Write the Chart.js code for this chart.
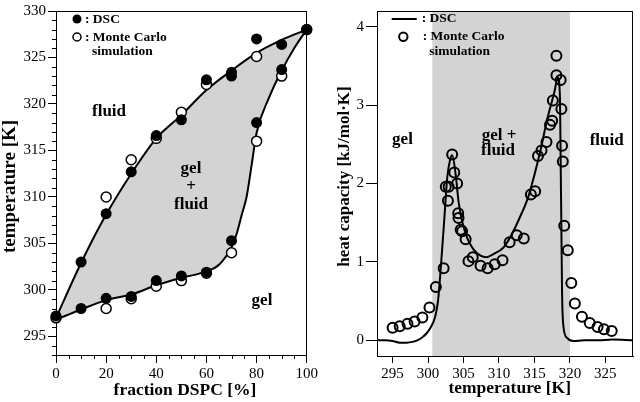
<!DOCTYPE html>
<html>
<head>
<meta charset="utf-8">
<script src="https://cdn.jsdelivr.net/npm/chart.js@4.4.0/dist/chart.umd.min.js"></script>
<style>
  html, body { margin: 0; padding: 0; background: #fff; }
  #wrap { display: flex; width: 640px; height: 402px; }
  .panel { position: relative; width: 320px; height: 402px; }
</style>
</head>
<body>
<div id="wrap">
  <div class="panel"><canvas id="phase"></canvas></div>
  <div class="panel"><canvas id="cp"></canvas></div>
</div>
<script>
// Left panel: phase diagram (fraction DSPC vs temperature)
const FRACTION_TICKS = [0, 20, 40, 60, 80, 100];
const TEMP_TICKS = [295, 300, 305, 310, 315, 320, 325, 330];

const DSC_FRACTION = [0, 10, 10, 20, 20, 30, 30, 40, 40, 50, 50, 60, 60, 70, 70, 70, 80, 80, 90, 90, 100];
const DSC_TEMP = [297.2, 298.0, 303.0, 299.1, 308.2, 299.3, 312.7, 301.0, 316.6, 301.5, 318.3, 301.9, 322.6, 305.3, 323.4, 323.0, 318.0, 327.0, 323.7, 326.4, 328.0];

const MC_FRACTION = [0, 20, 20, 30, 30, 40, 40, 50, 50, 60, 60, 70, 80, 80, 90, 100];
const MC_TEMP = [297.0, 298.0, 310.0, 299.05, 314.0, 300.4, 316.3, 301.0, 319.1, 301.8, 322.1, 304.0, 316.0, 325.1, 323.0, 328.0];

// boundary curves of the coexistence region
const FLUIDUS_FRACTION = [0, 10, 20, 30, 40, 50, 60, 70, 80, 90, 100];
const FLUIDUS_TEMP = [297.0, 302.9, 308.1, 312.5, 316.3, 318.8, 321.5, 323.6, 325.5, 326.9, 328.0];
const SOLIDUS_FRACTION = [0, 10, 20, 30, 40, 50, 60, 65, 70, 72, 74, 76, 78, 80, 85, 90, 95, 100];
const SOLIDUS_TEMP = [296.8, 297.9, 298.9, 299.5, 300.5, 301.3, 302.0, 302.7, 304.6, 306.0, 308.0, 310.0, 313.4, 316.9, 320.7, 323.6, 326.0, 328.0];

// Right panel: heat capacity profile
const CP_TEMP_TICKS = [295, 300, 305, 310, 315, 320, 325];
const CP_TICKS = [0, 1, 2, 3, 4];

const DSC_CURVE_TEMP = [292.8, 294, 295, 296, 297, 297.8, 298.5, 299.2, 299.8, 300.4, 301.0, 301.4, 301.8, 302.3, 302.7, 303.1, 303.4, 303.9, 304.3, 304.8, 305.5, 306.4, 307.4, 308.2, 309.2, 310.6, 311.8, 312.9, 314.1, 315.0, 315.9, 316.8, 317.8, 318.3, 318.6, 318.7, 318.8, 318.9, 319.1, 319.6, 320.5, 322, 324, 326, 328.9];
const DSC_CURVE_CP = [0.0, 0.0, -0.01, -0.03, -0.03, -0.02, 0.0, 0.04, 0.09, 0.17, 0.30, 0.50, 0.93, 1.56, 2.07, 2.30, 2.36, 2.11, 1.77, 1.52, 1.31, 1.16, 1.08, 1.06, 1.10, 1.18, 1.35, 1.56, 1.82, 2.11, 2.44, 2.82, 3.16, 3.35, 3.10, 2.28, 1.43, 0.59, 0.17, 0.03, -0.01, 0.0, 0.0, 0.01, 0.0];

const MC_CP_TEMP = [295.0, 296.0, 297.1, 298.1, 299.2, 300.2, 301.1, 302.2, 302.8, 302.5, 302.9, 303.4, 303.7, 304.1, 304.25, 304.3, 304.6, 304.8, 305.3, 305.7, 306.3, 307.4, 308.4, 309.4, 310.5, 311.5, 312.5, 313.5, 314.5, 315.1, 315.5, 316.0, 316.7, 317.2, 317.5, 317.6, 318.1, 318.1, 318.7, 318.8, 318.9, 319.0, 319.2, 319.7, 320.2, 320.7, 321.7, 322.8, 323.9, 324.8, 325.9];
const MC_CP = [0.16, 0.18, 0.21, 0.24, 0.29, 0.42, 0.68, 0.92, 1.78, 1.96, 1.96, 2.37, 2.14, 2.00, 1.62, 1.56, 1.41, 1.39, 1.29, 1.01, 1.06, 0.95, 0.92, 0.97, 1.02, 1.25, 1.34, 1.30, 1.86, 1.90, 2.35, 2.42, 2.53, 2.75, 2.80, 3.06, 3.38, 3.63, 3.32, 2.95, 2.48, 2.28, 1.46, 1.15, 0.73, 0.47, 0.30, 0.22, 0.17, 0.14, 0.12];

const COEXISTENCE_RANGE = [300.6, 320.0];

const SERIF = "'Liberation Serif', 'Times New Roman', serif";
const GREY = '#d3d3d3';

const pts = (xs, ys) => xs.map((x, i) => ({ x, y: ys[i] }));

function drawText(ctx, t) {
  ctx.save();
  ctx.font = t.font;
  ctx.fillStyle = '#000';
  ctx.textAlign = t.align || 'center';
  ctx.textBaseline = t.baseline || 'alphabetic';
  ctx.translate(t.x, t.y);
  if (t.rot) ctx.rotate(t.rot);
  ctx.fillText(t.text, 0, 0);
  ctx.restore();
}

function frame(chart) {
  const { ctx, chartArea: a } = chart;
  ctx.save();
  ctx.strokeStyle = '#000';
  ctx.lineWidth = 1;
  ctx.strokeRect(Math.round(a.left) + 0.5, Math.round(a.top) + 0.5, Math.round(a.right - a.left) - 1, Math.round(a.bottom - a.top));
  ctx.restore();
}

function minorTicks(chart, axis, step, majors, len) {
  const s = chart.scales[axis];
  const { ctx, chartArea: a } = chart;
  ctx.save();
  ctx.strokeStyle = '#000';
  ctx.lineWidth = 1;
  ctx.beginPath();
  for (let v = s.min; v <= s.max + 1e-9; v += step) {
    const val = Math.round(v / step) * step;
    if (majors.includes(val) || val < s.min || val > s.max) continue;
    const p = Math.round(s.getPixelForValue(val)) + 0.5;
    if (axis === 'x') { ctx.moveTo(p, a.bottom); ctx.lineTo(p, a.bottom + len); }
    else { ctx.moveTo(a.left - len, p); ctx.lineTo(a.left, p); }
  }
  ctx.stroke();
  ctx.restore();
}

function axisOpts(min, max, tickList, tickLength, extra) {
  return Object.assign({
    type: 'linear',
    min, max,
    afterBuildTicks: (s) => { s.ticks = tickList.map((v) => ({ value: v })); },
    ticks: { autoSkip: false, maxRotation: 0, color: '#000', padding: 2, font: { family: SERIF, size: 15 } },
    grid: { drawOnChartArea: false, drawTicks: true, tickLength, tickColor: '#000', tickWidth: 1 },
    border: { display: true, color: '#000', width: 1 },
  }, extra);
}

const BOLD17 = `bold 17px ${SERIF}`;
const LEGEND_FONT = `bold 13.5px ${SERIF}`;

// ---------- left chart ----------
new Chart(document.getElementById('phase'), {
  type: 'line',
  data: {
    datasets: [
      {
        label: 'DSC', data: pts(DSC_FRACTION, DSC_TEMP), showLine: false, clip: false,
        pointRadius: 5.5, pointBackgroundColor: '#000', pointBorderWidth: 0, order: 0,
      },
      {
        label: 'Monte Carlo simulation', data: pts(MC_FRACTION, MC_TEMP), showLine: false, clip: false,
        pointRadius: 5, pointBackgroundColor: '#fff', pointBorderColor: '#000', pointBorderWidth: 1.5, order: 1,
      },
      {
        label: 'fluidus', data: pts(FLUIDUS_FRACTION, FLUIDUS_TEMP), pointRadius: 0, borderColor: '#000',
        borderWidth: 2, cubicInterpolationMode: 'monotone', fill: '+1', backgroundColor: GREY, order: 2, clip: false,
      },
      {
        label: 'solidus', data: pts(SOLIDUS_FRACTION, SOLIDUS_TEMP), pointRadius: 0, borderColor: '#000',
        borderWidth: 2, cubicInterpolationMode: 'monotone', fill: false, order: 3, clip: false,
      },
    ],
  },
  options: {
    responsive: true,
    maintainAspectRatio: false,
    animation: false,
    layout: { padding: { top: 7, right: 5, left: 0, bottom: 0 } },
    plugins: {
      legend: { display: false },
      tooltip: { enabled: false },
      filler: { drawTime: 'beforeDatasetsDraw' },
    },
    scales: {
      x: axisOpts(0, 100, FRACTION_TICKS, 8, { afterFit: (s) => { s.height = 47; } }),
      y: axisOpts(293, 330, TEMP_TICKS, 8, { afterFit: (s) => { s.width = 56; } }),
    },
  },
  plugins: [{
    id: 'phaseDecor',
    beforeDatasetsDraw(chart) {
      frame(chart);
      minorTicks(chart, 'x', 5, FRACTION_TICKS, 4);
      minorTicks(chart, 'y', 1, TEMP_TICKS, 4);
    },
    afterDraw(chart) {
      const ctx = chart.ctx;
      [
        { text: 'fluid', x: 109, y: 116, font: BOLD17 },
        { text: 'gel', x: 191, y: 173, font: BOLD17 },
        { text: '+', x: 191, y: 191, font: BOLD17 },
        { text: 'fluid', x: 191, y: 209, font: BOLD17 },
        { text: 'gel', x: 262, y: 305, font: BOLD17 },
        { text: 'fraction DSPC [%]', x: 185, y: 395, font: `bold 17.5px ${SERIF}` },
        { text: 'temperature [K]', x: 10, y: 186.5, font: `bold 19px ${SERIF}`, rot: -Math.PI / 2, baseline: 'middle' },
        { text: ': DSC', x: 85, y: 23, font: LEGEND_FONT, align: 'left' },
        { text: ': Monte Carlo', x: 85, y: 41, font: LEGEND_FONT, align: 'left' },
        { text: 'simulation', x: 92, y: 55, font: LEGEND_FONT, align: 'left' },
      ].forEach((t) => drawText(ctx, t));
      ctx.save();
      ctx.fillStyle = '#000';
      ctx.beginPath(); ctx.arc(77, 19, 4.5, 0, Math.PI * 2); ctx.fill();
      ctx.strokeStyle = '#000'; ctx.lineWidth = 1.5;
      ctx.beginPath(); ctx.arc(77, 37, 4, 0, Math.PI * 2); ctx.stroke();
      ctx.restore();
    },
  }],
});

// ---------- right chart ----------
new Chart(document.getElementById('cp'), {
  type: 'line',
  data: {
    datasets: [
      {
        label: 'Monte Carlo simulation', data: pts(MC_CP_TEMP, MC_CP), showLine: false,
        pointRadius: 5, pointBackgroundColor: 'rgba(0,0,0,0)', pointBorderColor: '#000', pointBorderWidth: 2, order: 0,
      },
      {
        label: 'DSC', data: pts(DSC_CURVE_TEMP, DSC_CURVE_CP), pointRadius: 0, borderColor: '#000',
        borderWidth: 2, cubicInterpolationMode: 'monotone', fill: false, order: 1,
      },
    ],
  },
  options: {
    responsive: true,
    maintainAspectRatio: false,
    animation: false,
    layout: { padding: { top: 7, right: 4, left: 0, bottom: 0 } },
    plugins: { legend: { display: false }, tooltip: { enabled: false } },
    scales: {
      x: axisOpts(292.8, 328.9, CP_TEMP_TICKS, 7, { afterFit: (s) => { s.height = 46; } }),
      y: axisOpts(-0.2, 4.2, CP_TICKS, 11, { afterFit: (s) => { s.width = 57; } }),
    },
  },
  plugins: [{
    id: 'cpDecor',
    beforeDatasetsDraw(chart) {
      const { ctx, chartArea: a, scales: { x } } = chart;
      const x1 = x.getPixelForValue(COEXISTENCE_RANGE[0]);
      const x2 = x.getPixelForValue(COEXISTENCE_RANGE[1]);
      ctx.save();
      ctx.fillStyle = GREY;
      ctx.fillRect(x1, a.top, x2 - x1, a.bottom - a.top);
      ctx.restore();
      frame(chart);
    },
    afterDraw(chart) {
      const ctx = chart.ctx;
      [
        { text: 'gel', x: 82.5, y: 143.5, font: BOLD17 },
        { text: 'gel +', x: 179, y: 140, font: BOLD17 },
        { text: 'fluid', x: 178, y: 155, font: BOLD17 },
        { text: 'fluid', x: 286.7, y: 145, font: BOLD17 },
        { text: 'temperature [K]', x: 189.7, y: 393, font: `bold 17.5px ${SERIF}` },
        { text: 'heat capacity [kJ/mol\u00b7K]', x: 24.5, y: 176.5, font: BOLD17, rot: -Math.PI / 2, baseline: 'middle' },
        { text: ': DSC', x: 101.7, y: 22, font: LEGEND_FONT, align: 'left' },
        { text: ': Monte Carlo', x: 102.7, y: 40, font: LEGEND_FONT, align: 'left' },
        { text: 'simulation', x: 109.3, y: 55, font: LEGEND_FONT, align: 'left' },
      ].forEach((t) => drawText(ctx, t));
      ctx.save();
      ctx.strokeStyle = '#000'; ctx.lineWidth = 2;
      ctx.beginPath(); ctx.moveTo(71.7, 19); ctx.lineTo(96.7, 19); ctx.stroke();
      ctx.beginPath(); ctx.arc(83.3, 36.7, 4.2, 0, Math.PI * 2); ctx.stroke();
      ctx.restore();
    },
  }],
});
</script>
</body>
</html>
